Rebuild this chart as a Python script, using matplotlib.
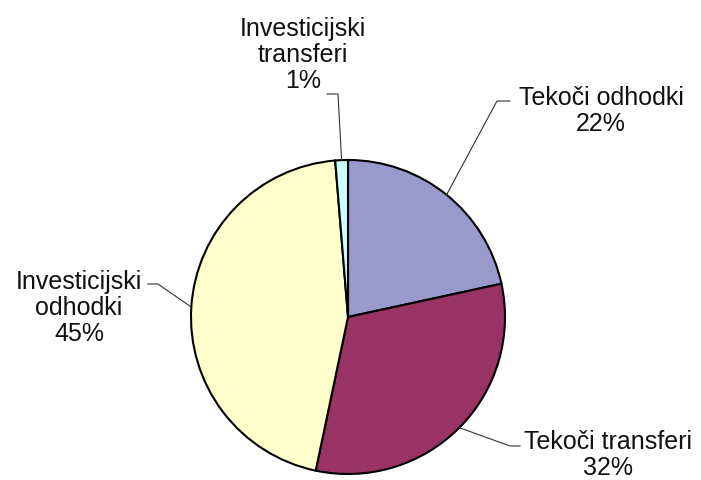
import numpy as np
import matplotlib
matplotlib.use('Agg')
import matplotlib.pyplot as plt

# slice data (clockwise from the top)
labels = ['Tekoči odhodki', 'Tekoči transferi', 'Investicijski\nodhodki', 'Investicijski\ntransferi']
shares = [21.6, 31.7, 45.4, 1.3]
colors = ['#9999cc', '#993366', '#ffffcc', '#ccffff']

plt.rcParams['font.family'] = ['Liberation Sans', 'DejaVu Sans']

W, H = 701, 481
fig = plt.figure(figsize=(W / 100, H / 100), dpi=100)
ax = fig.add_axes([0, 0, 1, 1])

cx, cy, r = 348, H - 318, 157
wedges, _ = ax.pie(shares, colors=colors, startangle=90, counterclock=False,
                   center=(cx, cy), radius=r, frame=True,
                   wedgeprops=dict(edgecolor='black', linewidth=1.5))
ax.set_xlim(0, W)
ax.set_ylim(0, H)
ax.set_aspect('equal')
ax.axis('off')

# label placement (pixel coords from top-left), leader elbow and end
text_pos = [(601, 111), (608, 455), (79, 308), (303, 55)]
elbows = [((497, 102), (510, 102)), ((510, 447), (520, 447)),
          ((158, 285), (148, 285)), ((338, 95), (327, 95))]

for w, lab, s, (tx, ty), (e1, e2) in zip(wedges, labels, shares, text_pos, elbows):
    mid = np.deg2rad((w.theta1 + w.theta2) / 2)
    px, py = cx + r * np.cos(mid), cy + r * np.sin(mid)
    xs = [px, e1[0], e2[0]]
    ys = [py, H - e1[1], H - e2[1]]
    ax.plot(xs, ys, color='#333333', lw=0.8, zorder=1)
    ax.text(tx, H - ty, f'{lab}\n{round(s):d}%', ha='center', va='center',
            fontsize=18, color='#111111', linespacing=1.12)

fig.savefig('out.png', dpi=100)
